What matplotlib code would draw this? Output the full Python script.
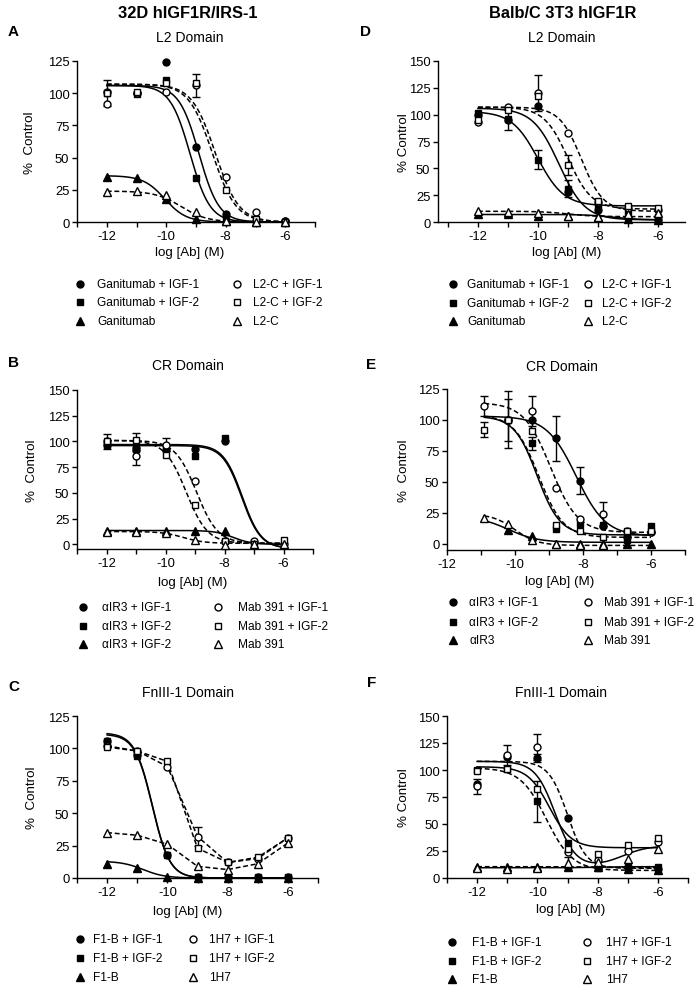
import numpy as np
import matplotlib
matplotlib.use("Agg")
import matplotlib.pyplot as plt
from matplotlib.lines import Line2D

plt.rcParams['font.family'] = ['Liberation Sans', 'DejaVu Sans']
plt.rcParams['axes.linewidth'] = 1.0

W, H = 699, 987
nan = np.nan

# ------------------------------------------------------------------ data
log_ab = [-12, -11, -10, -9, -8, -7, -6]
log_ab_E = [-10.9, -10.2, -9.5, -8.8, -8.1, -7.4, -6.7, -6.0]

# Panel A : 32D hIGF1R/IRS-1, L2 domain
A_gan_igf1 = [101, 100, 124, 58, 6, 0.5, 0.5]
A_gan_igf2 = [100, 99, 110, 34, 3, 0, 0]
A_gan = [35, 34, 18, 2, 0.5, 0, 0]
A_l2c_igf1 = [92, 100, 101, 106, 35, 8, 0.5]
A_l2c_igf2 = [100, 101, 108, 108, 25, 2, 0]
A_l2c = [23, 24, 21, 8, 1, 0, 0]
A_err_gan_igf2 = [10, 0, 0, 0, 0, 0, 0]
A_err_l2c_igf1 = [0, 0, 0, 9, 0, 0, 0]
A_fit_gan_igf1 = [106, 0, -8.9, 1.3]
A_fit_gan_igf2 = [106, 0, -9.2, 1.3]
A_fit_gan = [36, 0, -10.05, 1.2]
A_fit_l2c_igf1 = [107, 0, -8.35, 1.1]
A_fit_l2c_igf2 = [107, 0, -8.45, 1.1]
A_fit_l2c = [24, 0, -9.5, 1.0]

# Panel B : 32D hIGF1R/IRS-1, CR domain
B_air3_igf1 = [97, 92, 92, 93, 100, nan, nan]
B_air3_igf2 = [97, 93, 95, 86, 103, nan, nan]
B_air3_c = [13, 13, 13, 13, 13, nan, nan]
B_mab_igf1 = [100, 86, 97, 62, 3, 3, 0]
B_mab_igf2 = [100, 101, 87, 38, 3, 0, 4]
B_mab = [12, 12, 11, 4, -0.5, 0, 0]
B_err_mab_igf1 = [0, 9, 6, 0, 0, 0, 0]
B_err_mab_igf2 = [7.5, 7, 0, 0, 0, 0, 0]
B_fit_air3_igf1 = [97, -4, -7.4, 1.35]
B_fit_air3_igf2 = [96, -4, -7.42, 1.35]
B_fit_air3_c = [13.5, 0, -7.7, 1.4]
B_fit_mab_igf1 = [101, 1, -8.95, 1.2]
B_fit_mab_igf2 = [101, 1, -9.3, 1.2]
B_fit_mab = [12.5, 1, -9.4, 1.2]

# Panel C : 32D hIGF1R/IRS-1, FnIII-1 domain
C_f1b_igf1 = [106, 95, 18, 0.5, 0.5, 0.5, 0.5]
C_f1b_igf2 = [106, 94, 18, 0.5, 0.5, 0.5, 0.5]
C_f1b = [11, 8, 1, 0, 0, 0, 0]
C_1h7_igf1 = [102, 98, 86, 32, 12, 15, 31]
C_1h7_igf2 = [101, 98, 90, 23, 12, 16, 31]
C_1h7 = [35, 33, 26, 9, 6.5, 11, 27]
C_err_1h7_igf1 = [0, 0, 0, 7, 0, 0, 0]
C_fit_f1b_igf1 = [111, 0, -10.5, 1.5]
C_fit_f1b_igf2 = [112, 0, -10.5, 1.5]
C_fit_f1b = [13, 0, -10.8, 1.2]

# Panel D : Balb/C 3T3 hIGF1R, L2 domain
D_gan_igf1 = [100, 95, 108, 28, 11, 4, 2]
D_gan_igf2 = [102, 96, 58, 31, 15, 9, 5]
D_gan = [7, 7, 6, 6, 5, 3, 2]
D_l2c_igf1 = [93, 107, 120, 83, 19, 13, 11]
D_l2c_igf2 = [95, 104, 117, 53, 20, 15, 13]
D_l2c = [10, 9, 8, 6, 5, 7, 8]
D_err_gan_igf1 = [0, 9, 0, 0, 0, 0, 0]
D_err_gan_igf2 = [0, 0, 9, 8, 0, 0, 0]
D_err_l2c_igf1 = [0, 0, 17, 0, 0, 0, 0]
D_err_l2c_igf2 = [0, 0, 0, 9, 0, 0, 0]
D_fit_gan_igf1 = [106, 2, -9.3, 1.0]
D_fit_gan_igf2 = [103, 15, -10.0, 1.0]
D_fit_gan = [7, 2, -7.5, 1.0]
D_fit_l2c_igf1 = [107, 10, -8.55, 1.2]
D_fit_l2c_igf2 = [107, 12, -9.0, 1.1]
D_fit_l2c = [10, 5, -9.0, 1.0]

# Panel E : Balb/C 3T3 hIGF1R, CR domain
E_air3_igf1 = [nan, 100, 100, 85, 51, 14, 5, 9]
E_air3_igf2 = [nan, 100, 81, 12, 16, 15, 3, 14]
E_air3 = [nan, 11, 6, 0, 0, 0, 0, 0]
E_mab_igf1 = [111, 100, 107, 45, 20, 24, 10, 9]
E_mab_igf2 = [92, 100, 91, 15, 10, 5, 10, 10]
E_mab = [21, 16, 3, 0, -1, -1, nan, nan]
E_err_air3_igf1 = [0, 23, 0, 18, 11, 0, 0, 0]
E_err_air3_igf2 = [0, 0, 5, 0, 0, 0, 0, 0]
E_err_mab_igf1 = [8, 0, 12, 0, 0, 10, 0, 0]
E_err_mab_igf2 = [6, 17, 0, 0, 0, 0, 0, 0]
E_fit_air3_igf1 = [103, 6, -8.2, 1.0]
E_fit_air3_igf2 = [103, 7, -9.35, 1.3]
E_fit_air3 = [22, 1, -10.2, 1.0]
E_fit_mab_igf1 = [114, 9, -8.95, 1.1]
E_fit_mab_igf2 = [104, 5, -9.3, 1.2]
E_fit_mab = [24, -1.5, -10.0, 1.3]

# Panel F : Balb/C 3T3 hIGF1R, FnIII-1 domain
F_f1b_igf1 = [87, 112, 111, 56, 10, 10, 8]
F_f1b_igf2 = [100, 101, 71, 32, 9, 10, 10]
F_f1b = [10, 10, 10, 10, 10, 8, 7]
F_1h7_igf1 = [85, 114, 121, 24, 17, 25, 33]
F_1h7_igf2 = [99, 101, 82, 27, 22, 31, 37]
F_1h7 = [9, 8, 9, 14, 15, 18, 27]
F_err_f1b_igf1 = [0, 0, 4, 0, 0, 0, 0]
F_err_f1b_igf2 = [0, 0, 19, 0, 0, 0, 0]
F_err_1h7_igf1 = [7, 9, 12, 0, 0, 0, 0]
F_err_1h7 = [0, 0, 0, 5, 0, 0, 0]
F_fit_f1b_igf1 = [108, 9, -9.0, 1.4]
F_fit_f1b_igf2 = [102, 7, -9.7, 1.0]
F_fit_f1b = [10.5, 9.5, -8.0, 1.0]
F_fit_1h7_igf1 = [108, 10, -9.4, 1.3, 20, -7.2, 1.0]
F_fit_1h7_igf2 = [103, 28, -9.6, 1.2]
F_fit_1h7 = [9.5, 10.5, -8.0, 1.0]

# ------------------------------------------------------------------ helpers
def logistic(x, p):
    top, bottom, c, h = p[:4]
    y = bottom + (top - bottom) / (1 + 10 ** ((x - c) * h))
    if len(p) > 4:
        amp, rc, rh = p[4:]
        y = y + amp / (1 + 10 ** ((rc - x) * rh))
    return y


def fx(x):
    return x / W


def fy(y):
    return 1 - y / H


fig = plt.figure(figsize=(W / 100, H / 100), dpi=100)
DASH = (0, (3.2, 1.8))
FS_TICK = 9.4
FS_LAB = 9.6
FS_LEG = 8.6


def draw_panel(box, xlim, ylim, yticks, xs, series, letter, letter_xy, title,
               title_xy, ylabel, ylabel_x, xlabel_xy, leg_mx, leg_tx, leg_rows):
    l, t, r, b = box
    ax = fig.add_axes([fx(l), fy(b), (r - l) / W, (b - t) / H])
    ax.set_xlim(*xlim)
    ax.set_ylim(*ylim)
    for s in ['top', 'right']:
        ax.spines[s].set_visible(False)
    ax.set_yticks(yticks)
    xt = list(range(int(np.ceil(xlim[0])), int(np.floor(xlim[1])) + 1))
    ax.set_xticks(xt)
    ax.set_xticklabels([str(v) if v % 2 == 0 else '' for v in xt])
    ax.tick_params(direction='out', length=3.5, width=1.0, labelsize=FS_TICK, pad=2)
    xs = np.asarray(xs, float)
    xx = np.linspace(np.nanmin(xs), np.nanmax(xs), 300)
    # curves
    for (lab, y, err, fit, mk, filled, ls, connect) in series:
        if fit is not None:
            ax.plot(xx, logistic(xx, fit), color='black', lw=1.1, ls=ls, zorder=2)
        if connect:
            yy = np.asarray(y, float)
            m = ~np.isnan(yy)
            ax.plot(xs[m], yy[m], color='black', lw=1.1, ls=ls, zorder=2)
    # error bars and markers
    for (lab, y, err, fit, mk, filled, ls, connect) in series:
        yy = np.asarray(y, float)
        if err is not None:
            ee = np.asarray(err, float)
            m = ee > 0
            ax.errorbar(xs[m], yy[m], yerr=ee[m], fmt='none', ecolor='black',
                        elinewidth=1.0, capsize=2.6, capthick=1.0, zorder=3)
        ms = 5.6 if mk == '^' else 5.0
        ax.plot(xs, yy, ls='none', marker=mk, ms=ms,
                mfc='black' if filled else 'white', mec='black', mew=1.0,
                zorder=4, clip_on=False)
    fig.text(fx(letter_xy[0]), fy(letter_xy[1]), letter, fontsize=11,
             fontweight='bold', ha='left', va='center')
    fig.text(fx(title_xy[0]), fy(title_xy[1]), title, fontsize=10,
             ha='center', va='center')
    fig.text(fx(ylabel_x), fy((t + b) / 2), ylabel, fontsize=FS_LAB,
             rotation=90, ha='center', va='center')
    fig.text(fx(xlabel_xy[0]), fy(xlabel_xy[1]), 'log [Ab] (M)', fontsize=FS_LAB,
             ha='center', va='center')
    # legend (two columns x three rows)
    for i, (lab, y, err, fit, mk, filled, ls, connect) in enumerate(series):
        col, row = divmod(i, 3)
        mx = leg_mx[col]
        tx = leg_tx[col]
        ry = leg_rows[row]
        ms = 5.6 if mk == '^' else 5.0
        fig.add_artist(Line2D([fx(mx)], [fy(ry)], marker=mk, ms=ms, ls='none',
                              mfc='black' if filled else 'white', mec='black',
                              mew=1.0, transform=fig.transFigure))
        fig.text(fx(tx), fy(ry), lab, fontsize=FS_LEG, ha='left', va='center')
    return ax


yt125 = [0, 25, 50, 75, 100, 125]
yt150 = [0, 25, 50, 75, 100, 125, 150]

# Column headers
fig.text(fx(188), fy(13), '32D hIGF1R/IRS-1', fontsize=11.8, fontweight='bold',
         ha='center', va='center')
fig.text(fx(563), fy(13), 'Balb/C 3T3 hIGF1R', fontsize=11.8, fontweight='bold',
         ha='center', va='center')

# ---- A
draw_panel((77, 62, 315, 223), (-13, -5), (0, 125), yt125, log_ab, [
    ("Ganitumab + IGF-1", A_gan_igf1, None, A_fit_gan_igf1, 'o', True, '-', False),
    ("Ganitumab + IGF-2", A_gan_igf2, A_err_gan_igf2, A_fit_gan_igf2, 's', True, '-', False),
    ("Ganitumab", A_gan, None, A_fit_gan, '^', True, '-', False),
    ("L2-C + IGF-1", A_l2c_igf1, A_err_l2c_igf1, A_fit_l2c_igf1, 'o', False, DASH, False),
    ("L2-C + IGF-2", A_l2c_igf2, None, A_fit_l2c_igf2, 's', False, DASH, False),
    ("L2-C", A_l2c, None, A_fit_l2c, '^', False, DASH, False),
], 'A', (8, 32), 'L2 Domain', (190, 38), '%  Control', 30, (190, 253),
    (80, 237), (97, 253), (285, 303, 322))

# ---- D
draw_panel((438, 62, 685, 223), (-13.33, -5.1), (0, 150), yt150, log_ab, [
    ("Ganitumab + IGF-1", D_gan_igf1, D_err_gan_igf1, D_fit_gan_igf1, 'o', True, '-', False),
    ("Ganitumab + IGF-2", D_gan_igf2, D_err_gan_igf2, D_fit_gan_igf2, 's', True, '-', False),
    ("Ganitumab", D_gan, None, D_fit_gan, '^', True, '-', False),
    ("L2-C + IGF-1", D_l2c_igf1, D_err_l2c_igf1, D_fit_l2c_igf1, 'o', False, DASH, False),
    ("L2-C + IGF-2", D_l2c_igf2, D_err_l2c_igf2, D_fit_l2c_igf2, 's', False, DASH, False),
    ("L2-C", D_l2c, None, D_fit_l2c, '^', False, DASH, False),
], 'D', (360, 32), 'L2 Domain', (562, 38), '% Control', 404, (567, 253),
    (453, 588), (467, 602), (285, 304, 322))

# ---- B
draw_panel((77, 391, 313, 550), (-13, -5), (-4.5, 150), yt150, log_ab, [
    ("\u03b1IR3 + IGF-1", B_air3_igf1, None, B_fit_air3_igf1, 'o', True, '-', False),
    ("\u03b1IR3 + IGF-2", B_air3_igf2, None, B_fit_air3_igf2, 's', True, '-', False),
    ("\u03b1IR3 + IGF-2", B_air3_c, None, B_fit_air3_c, '^', True, '-', False),
    ("Mab 391 + IGF-1", B_mab_igf1, B_err_mab_igf1, B_fit_mab_igf1, 'o', False, DASH, False),
    ("Mab 391 + IGF-2", B_mab_igf2, B_err_mab_igf2, B_fit_mab_igf2, 's', False, DASH, False),
    ("Mab 391", B_mab, None, B_fit_mab, '^', False, DASH, False),
], 'B', (8, 363), 'CR Domain', (188, 366), '%  Control', 32, (193, 583),
    (83, 218), (102, 238), (608, 627, 645))

# ---- E
draw_panel((447, 390, 685, 551), (-12, -5), (-5.2, 125), yt125, log_ab_E, [
    ("\u03b1IR3 + IGF-1", E_air3_igf1, E_err_air3_igf1, E_fit_air3_igf1, 'o', True, '-', False),
    ("\u03b1IR3 + IGF-2", E_air3_igf2, E_err_air3_igf2, E_fit_air3_igf2, 's', True, '-', False),
    ("\u03b1IR3", E_air3, None, E_fit_air3, '^', True, '-', False),
    ("Mab 391 + IGF-1", E_mab_igf1, E_err_mab_igf1, E_fit_mab_igf1, 'o', False, DASH, False),
    ("Mab 391 + IGF-2", E_mab_igf2, E_err_mab_igf2, E_fit_mab_igf2, 's', False, DASH, False),
    ("Mab 391", E_mab, None, E_fit_mab, '^', False, DASH, False),
], 'E', (366, 365), 'CR Domain', (562, 367), '%  Control', 404, (560, 582),
    (453, 588), (469, 604), (603, 623, 641))

# ---- C
draw_panel((77, 717, 318, 879), (-13, -5), (0, 125), yt125, log_ab, [
    ("F1-B + IGF-1", C_f1b_igf1, None, C_fit_f1b_igf1, 'o', True, '-', False),
    ("F1-B + IGF-2", C_f1b_igf2, None, C_fit_f1b_igf2, 's', True, '-', False),
    ("F1-B", C_f1b, None, C_fit_f1b, '^', True, '-', False),
    ("1H7 + IGF-1", C_1h7_igf1, C_err_1h7_igf1, None, 'o', False, DASH, True),
    ("1H7 + IGF-2", C_1h7_igf2, None, None, 's', False, DASH, True),
    ("1H7", C_1h7, None, None, '^', False, DASH, True),
], 'C', (8, 687), 'FnIII-1 Domain', (188, 693), '%  Control', 32, (188, 912),
    (80, 193), (93, 209), (940, 959, 978))

# ---- F
draw_panel((447, 717, 688, 879), (-13, -5), (0, 150), yt150, log_ab, [
    ("F1-B + IGF-1", F_f1b_igf1, F_err_f1b_igf1, F_fit_f1b_igf1, 'o', True, DASH, False),
    ("F1-B + IGF-2", F_f1b_igf2, F_err_f1b_igf2, F_fit_f1b_igf2, 's', True, DASH, False),
    ("F1-B", F_f1b, None, F_fit_f1b, '^', True, DASH, False),
    ("1H7 + IGF-1", F_1h7_igf1, F_err_1h7_igf1, F_fit_1h7_igf1, 'o', False, '-', False),
    ("1H7 + IGF-2", F_1h7_igf2, None, F_fit_1h7_igf2, 's', False, '-', False),
    ("1H7", F_1h7, F_err_1h7, F_fit_1h7, '^', False, '-', False),
], 'F', (367, 683), 'FnIII-1 Domain', (561, 693), '% Control', 404, (571, 910),
    (452, 587), (472, 606), (943, 962, 980))

fig.savefig('out.png', dpi=100)
